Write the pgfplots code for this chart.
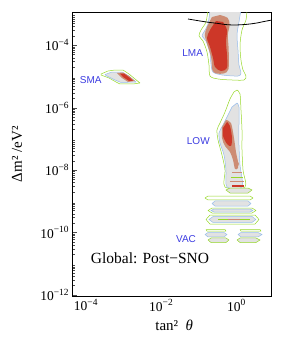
\documentclass[border=0pt]{standalone}
\usepackage{pgfplots}
\pgfplotsset{compat=1.18}
\usepackage{fontspec}
\setmainfont{Liberation Serif}
\newfontfamily\labelsans{Liberation Sans}
\definecolor{cgray}{RGB}{226,226,226}
\definecolor{cblue}{RGB}{150,188,235}
\definecolor{cgreen}{RGB}{150,215,40}
\definecolor{csalmon}{RGB}{205,140,115}
\definecolor{cred}{RGB}{205,55,40}
\definecolor{ctext}{RGB}{60,60,225}
\pgfplotsset{
  g3/.style={draw=cgreen, line width=0.5pt, fill=none, line join=round},
  g3f/.style={draw=cgreen, line width=0.5pt, fill=cgray, line join=round},
  g2/.style={draw=cblue, line width=0.5pt, fill=cgray, line join=round},
  g1/.style={draw=none, fill=csalmon},
  g0/.style={draw=none, fill=cred},
}
\begin{document}
\begin{tikzpicture}
\begin{axis}[
  scale only axis, width=199pt, height=283.3pt,
  xmin=-4.354, xmax=0.939, ymin=-12.035, ymax=-2.955,
  xtick={-4,-2,0},
  xticklabels={10\textsuperscript{−4},10\textsuperscript{−2},10\textsuperscript{0}},
  ytick={-12,-10,-8,-6,-4},
  yticklabels={10\textsuperscript{−12},10\textsuperscript{−10},10\textsuperscript{−8},10\textsuperscript{−6},10\textsuperscript{−4}},
  minor ytick={-11.699,-11.523,-11.398,-11.301,-11.222,-11.155,-11.097,-11.046,
               -10.699,-10.523,-10.398,-10.301,-10.222,-10.155,-10.097,-10.046,
               -9.699,-9.523,-9.398,-9.301,-9.222,-9.155,-9.097,-9.046,
               -8.699,-8.523,-8.398,-8.301,-8.222,-8.155,-8.097,-8.046,
               -7.699,-7.523,-7.398,-7.301,-7.222,-7.155,-7.097,-7.046,
               -6.699,-6.523,-6.398,-6.301,-6.222,-6.155,-6.097,-6.046,
               -5.699,-5.523,-5.398,-5.301,-5.222,-5.155,-5.097,-5.046,
               -4.699,-4.523,-4.398,-4.301,-4.222,-4.155,-4.097,-4.046,
               -3.699,-3.523,-3.398,-3.301,-3.222,-3.155,-3.097,-3.046},
  tick align=inside, ytick pos=left, xtick pos=bottom,
  major tick length=4pt, minor tick length=2pt,
  xtick style={draw=none},
  tick style={line width=0.4pt, color=black!70},
  tick label style={font=\fontsize{13.5}{15}\selectfont},
  xlabel={tan²\ \ \textit{θ}},
  ylabel={Δm² /eV²},
  label style={font=\fontsize{15}{17}\selectfont},
  xlabel style={at={(axis description cs:0.51,-0.102)}, anchor=center},
  ylabel style={at={(axis description cs:-0.28,0.5)}, anchor=center},
  axis line style={line width=0.6pt},
  no markers, clip=true,
]
% ---------------- LMA ----------------
\addplot[g3, smooth, tension=0.5] coordinates {(-0.755,-2.85) (-0.809,-3.253) (-0.941,-3.510) (-0.995,-3.702) (-0.888,-3.862) (-0.782,-4.215) (-0.729,-4.631) (-0.702,-4.984) (-0.489,-5.080) (-0.117,-5.112) (0.202,-5.112) (0.255,-4.984) (0.176,-4.792) (0.122,-4.471) (0.096,-3.990) (0.149,-3.510) (0.255,-3.189) (0.282,-2.85)} -- cycle;
\addplot[g2, smooth, tension=0.5] coordinates {(-0.702,-2.85) (-0.755,-3.317) (-0.862,-3.574) (-0.915,-3.702) (-0.809,-3.862) (-0.702,-4.247) (-0.676,-4.599) (-0.622,-4.856) (-0.383,-4.952) (0.043,-4.984) (0.122,-4.888) (0.069,-4.631) (0.043,-4.151) (0.016,-3.670) (0.069,-3.253) (0.122,-2.85)} -- cycle;
\addplot[g1, smooth, tension=0.5] coordinates {(-0.649,-3.093) (-0.782,-3.413) (-0.840,-3.670) (-0.770,-3.990) (-0.670,-4.407) (-0.640,-4.792) (-0.543,-4.900) (-0.330,-4.900) (-0.210,-4.760) (-0.205,-4.151) (-0.228,-3.670) (-0.180,-3.349) (-0.230,-3.125) (-0.436,-3.029)} -- cycle;
\addplot[g0, smooth, tension=0.5] coordinates {(-0.543,-3.221) (-0.702,-3.510) (-0.782,-3.766) (-0.702,-4.054) (-0.622,-4.407) (-0.569,-4.696) (-0.410,-4.824) (-0.250,-4.728) (-0.250,-4.311) (-0.277,-3.894) (-0.250,-3.510) (-0.356,-3.253)} -- cycle;
% ---------------- SMA ----------------
\addplot[g3] coordinates {(-3.601,-4.920) (-3.415,-4.824) (-3.229,-4.792) (-3.016,-4.792) (-2.856,-4.920) (-2.697,-5.080) (-2.564,-5.208) (-2.750,-5.240) (-3.096,-5.240) (-3.202,-5.176) (-3.388,-5.048) (-3.601,-4.952)} -- cycle;
\addplot[g2] coordinates {(-3.495,-4.936) (-3.309,-4.856) (-3.043,-4.856) (-2.883,-4.968) (-2.670,-5.176) (-3.069,-5.192) (-3.229,-5.112) (-3.468,-4.968)} -- cycle;
\addplot[g1] coordinates {(-3.176,-4.888) (-3.016,-4.872) (-2.856,-4.984) (-2.697,-5.144) (-2.883,-5.176) (-3.043,-5.048)} -- cycle;
\addplot[g0] coordinates {(-3.096,-4.904) (-2.990,-4.904) (-2.830,-5.048) (-2.750,-5.144) (-2.856,-5.144) (-3.016,-5.016)} -- cycle;
% ---------------- LOW ----------------
\addplot[g3, smooth, tension=0.5] coordinates {(0.016,-5.433) (0.096,-5.561) (0.122,-6.074) (0.149,-6.715) (0.149,-7.356) (0.176,-7.997) (0.229,-8.542) (-0.303,-8.542) (-0.303,-7.997) (-0.383,-7.516) (-0.489,-7.035) (-0.516,-6.715) (-0.436,-6.490) (-0.303,-6.138) (-0.170,-5.721) (-0.064,-5.497)} -- cycle;
\addplot[g2, smooth, tension=0.5] coordinates {(0.016,-5.849) (0.069,-5.978) (0.069,-6.554) (0.069,-7.196) (0.096,-7.837) (0.149,-8.542) (-0.250,-8.542) (-0.277,-7.997) (-0.330,-7.516) (-0.436,-7.131) (-0.463,-6.811) (-0.356,-6.554) (-0.223,-6.234) (-0.117,-5.978)} -- cycle;
\addplot[g1, smooth, tension=0.5] coordinates {(-0.277,-6.394) (-0.144,-6.490) (-0.064,-6.971) (-0.011,-7.420) (0.043,-7.740) (0.043,-7.933) (-0.037,-7.965) (-0.090,-7.676) (-0.170,-7.420) (-0.303,-7.228) (-0.383,-6.971) (-0.383,-6.619)} -- cycle;
\addplot[g0, smooth, tension=0.5] coordinates {(-0.250,-6.458) (-0.170,-6.587) (-0.117,-6.971) (-0.144,-7.228) (-0.250,-7.163) (-0.356,-6.907) (-0.356,-6.651)} -- cycle;
\addplot[only marks, mark=*, mark size=2.2pt, color=csalmon] coordinates {(0.000,-7.80)};
\addplot[csalmon, line width=1pt] coordinates {(-0.117,-8.061) (0.149,-8.061)};
\addplot[cgreen, line width=0.8pt] coordinates {(-0.144,-8.221) (0.176,-8.221)};
\addplot[csalmon, line width=1pt] coordinates {(-0.170,-8.381) (0.202,-8.381)};
\addplot[cred, line width=1.2pt] coordinates {(-0.117,-8.510) (0.202,-8.510)};
% ---------------- stripes ----------------
\addplot[g3f] coordinates {(-0.277,-8.638) (-0.170,-8.574) (0.309,-8.574) (0.415,-8.638) (0.309,-8.734) (-0.170,-8.734)} -- cycle;
\addplot[g3] coordinates {(-0.835,-8.894) (-0.755,-8.830) (0.362,-8.830) (0.441,-8.894) (0.362,-8.958) (-0.755,-8.958)} -- cycle;
\addplot[g2] coordinates {(-0.649,-9.071) (-0.569,-8.990) (0.309,-8.990) (0.388,-9.071) (0.309,-9.151) (-0.569,-9.151)} -- cycle;
\addplot[g3] coordinates {(-0.755,-9.295) (-0.649,-9.215) (0.415,-9.215) (0.521,-9.295) (0.415,-9.375) (-0.649,-9.375)} -- cycle;
\addplot[g2] coordinates {(-0.676,-9.295) (-0.596,-9.247) (0.362,-9.247) (0.441,-9.295) (0.362,-9.343) (-0.596,-9.343)} -- cycle;
\addplot[g3] coordinates {(-0.809,-9.583) (-0.702,-9.439) (0.495,-9.439) (0.601,-9.583) (0.495,-9.728) (-0.702,-9.728)} -- cycle;
\addplot[g2] coordinates {(-0.729,-9.583) (-0.622,-9.487) (0.415,-9.487) (0.521,-9.583) (0.415,-9.679) (-0.622,-9.679)} -- cycle;
\addplot[cgreen, line width=0.8pt] coordinates {(-0.489,-9.583) (0.362,-9.583)};
\addplot[csalmon, line width=0.8pt] coordinates {(-0.223,-9.583) (0.096,-9.583)};
% ---------------- VAC ----------------
\addplot[g3] coordinates {(-0.809,-9.904) (-0.303,-9.904) (-0.277,-9.952) (-0.782,-9.952)} -- cycle;
\addplot[g2] coordinates {(-0.835,-10.064) (-0.755,-10.000) (-0.330,-10.000) (-0.250,-10.064) (-0.330,-10.144) (-0.755,-10.144)} -- cycle;
\addplot[g3f] coordinates {(-0.755,-10.240) (-0.676,-10.176) (-0.277,-10.176) (-0.197,-10.240) (-0.277,-10.321) (-0.676,-10.321)} -- cycle;
\addplot[g3] coordinates {(0.096,-9.904) (0.628,-9.904) (0.654,-9.952) (0.122,-9.952)} -- cycle;
\addplot[g2] coordinates {(0.043,-10.064) (0.122,-10.000) (0.574,-10.000) (0.681,-10.064) (0.574,-10.144) (0.122,-10.144)} -- cycle;
\addplot[g3f] coordinates {(0.016,-10.240) (0.096,-10.176) (0.521,-10.176) (0.628,-10.240) (0.521,-10.321) (0.096,-10.321)} -- cycle;
% ---------------- bound line ----------------
\addplot[black, line width=0.8pt, smooth] coordinates {(-1.287,-3.157) (-0.968,-3.221) (-0.702,-3.269) (-0.516,-3.295) (-0.303,-3.333) (-0.090,-3.349) (0.149,-3.340) (0.362,-3.317) (0.574,-3.279) (0.707,-3.244) (0.947,-3.189)};
% ---------------- labels ----------------
\node[text=ctext, font=\labelsans\fontsize{10}{12}\selectfont] at (axis cs:-1.162,-4.256) {LMA};
\node[text=ctext, font=\labelsans\fontsize{10}{12}\selectfont] at (axis cs:-3.875,-5.112) {SMA};
\node[text=ctext, font=\labelsans\fontsize{10}{12}\selectfont] at (axis cs:-1.013,-7.058) {LOW};
\node[text=ctext, font=\labelsans\fontsize{10}{12}\selectfont] at (axis cs:-1.340,-10.208) {VAC};
\node[font=\fontsize{15.5}{17}\selectfont] at (axis cs:-2.298,-10.827) {Global: Post−SNO};
\end{axis}
\pgfresetboundingbox
\path ([xshift=-72.7pt,yshift=-41pt]current axis.south west) rectangle ([xshift=30.3pt,yshift=12.7pt]current axis.north east);
\end{tikzpicture}
\end{document}
